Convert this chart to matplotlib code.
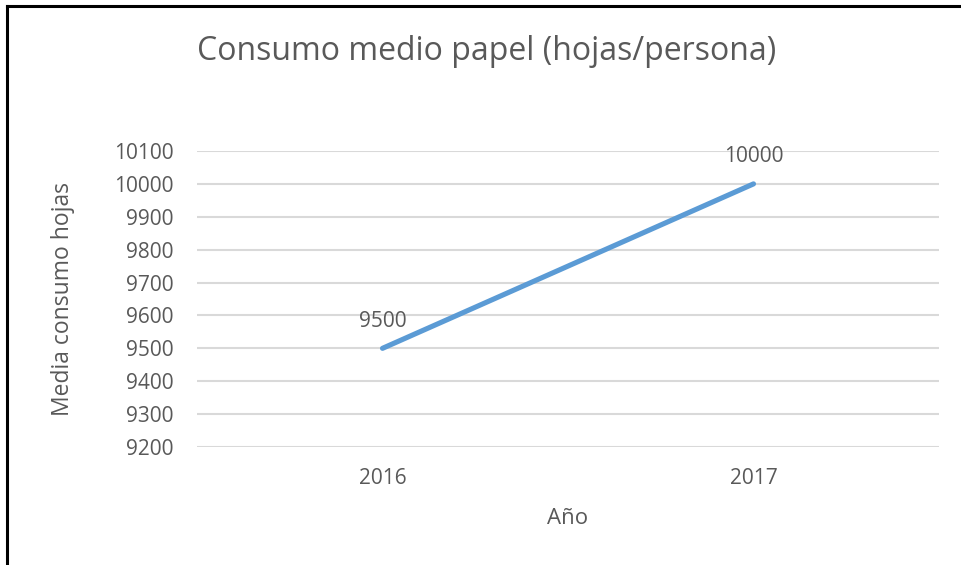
import matplotlib.pyplot as plt
from matplotlib.lines import Line2D

years = ['2016', '2017']
hojas = [9500, 10000]
y_ticks = [9200, 9300, 9400, 9500, 9600, 9700, 9800, 9900, 10000, 10100]

text_color = '#595959'
line_color = '#5B9BD5'

plt.rcParams['font.family'] = ['Open Sans', 'DejaVu Sans']

fig = plt.figure(figsize=(9.61, 5.65), dpi=100)
ax = fig.add_axes([197 / 961, 118 / 565, 742 / 961, 296 / 565])

x = list(range(len(years)))
ax.plot(x, hojas, color=line_color, linewidth=3.7, solid_capstyle='round')
for xi, v in zip(x, hojas):
    ax.annotate(str(v), (xi, v), xytext=(0, 12), textcoords='offset points',
                ha='center', va='bottom', fontsize=15, color=text_color)

ax.set_xlim(-0.5, len(years) - 0.5)
ax.set_ylim(y_ticks[0], y_ticks[-1])
ax.set_xticks(x)
ax.set_xticklabels(years)
ax.set_yticks(y_ticks)
ax.grid(axis='y', color='#D9D9D9', linewidth=1.5)
ax.set_axisbelow(True)
for s in ax.spines.values():
    s.set_visible(False)
ax.tick_params(length=0, labelsize=15, labelcolor=text_color)
ax.tick_params(axis='y', pad=17)
ax.tick_params(axis='x', pad=15)

ax.set_xlabel('Año', fontsize=16, color=text_color, labelpad=14)
ax.set_ylabel('Media consumo hojas', fontsize=16.5, color=text_color, labelpad=28)
fig.text(487 / 961, 1 - 52 / 565, 'Consumo medio papel (hojas/persona)',
         ha='center', va='center', fontsize=23, color=text_color)

# borde del gráfico (arriba e izquierda)
fig.add_artist(Line2D([7 / 961, 1], [1 - 6 / 565, 1 - 6 / 565], color='black', linewidth=2.2))
fig.add_artist(Line2D([7 / 961, 7 / 961], [0, 1 - 6 / 565], color='black', linewidth=2.2))

fig.savefig('out.png', dpi=100)
